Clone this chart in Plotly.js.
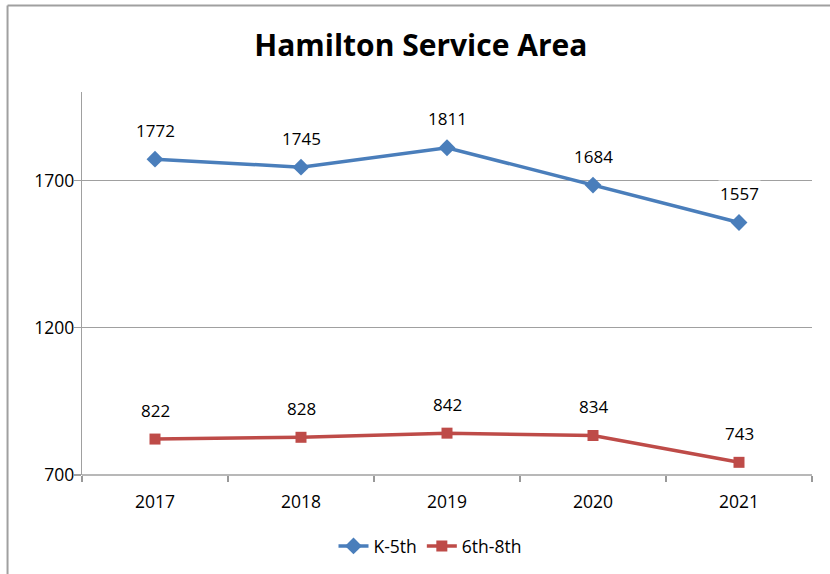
<!DOCTYPE html>
<html>
<head>
<meta charset="utf-8">
<script src="https://cdn.plot.ly/plotly-3.0.1.min.js"></script>
<style>html,body{margin:0;padding:0;background:#fff;}#chart{width:830px;height:574px;}</style>
</head>
<body>
<div id="chart"></div>
<script>
const years = ["2017", "2018", "2019", "2020", "2021"];
const k5 = [1772, 1745, 1811, 1684, 1557];
const g68 = [822, 828, 842, 834, 743];
const seriesNames = ["K-5th", "6th-8th"];

const font = "Open Sans, Noto Sans, DejaVu Sans, sans-serif";

const traces = [
  {x: years, y: k5, name: seriesNames[0], type: "scatter", mode: "lines+markers",
   line: {color: "#4a7ebb", width: 3.5},
   marker: {symbol: "diamond", size: 13, color: "#4a7ebb"}},
  {x: years, y: g68, name: seriesNames[1], type: "scatter", mode: "lines+markers",
   line: {color: "#be4b48", width: 3.5},
   marker: {symbol: "square", size: 11, color: "#be4b48"}}
];

const annotations = [];
[k5, g68].forEach(arr => {
  arr.forEach((v, i) => {
    annotations.push({x: i, y: v, xref: "x", yref: "y", text: String(v), showarrow: false,
      yshift: 29, bgcolor: "#ffffff", font: {family: font, size: 17, color: "#000"}});
  });
});

const layout = {
  width: 830, height: 574,
  margin: {l: 82, r: 18, t: 92, b: 99},
  paper_bgcolor: "#fff", plot_bgcolor: "#fff",
  title: {text: "<b>Hamilton Service Area</b>", x: 0.507, xref: "container", xanchor: "center",
          y: 1 - 45/574, yref: "container", yanchor: "middle",
          font: {family: font, size: 30, color: "#000"}},
  xaxis: {type: "category", range: [-0.5, 4.5], showgrid: false, zeroline: false,
          showline: false, ticks: "outside", tickson: "boundaries", ticklen: 6,
          tickcolor: "#999", tickwidth: 1.5, ticklabelstandoff: 14,
          tickfont: {family: font, size: 17.5, color: "#000"}},
  yaxis: {range: [700, 2000], tick0: 700, dtick: 500, showgrid: true, gridcolor: "#a0a0a0",
          gridwidth: 1.3, zeroline: false, showline: true, linecolor: "#a0a0a0", linewidth: 1.3,
          ticks: "outside", ticklen: 7, tickcolor: "#a0a0a0", tickwidth: 1.3, ticklabelstandoff: -4,
          tickfont: {family: font, size: 17.5, color: "#000"}},
  showlegend: true,
  legend: {orientation: "h", x: 430/830, xref: "container", xanchor: "center",
           y: 1 - 546/574, yref: "container", yanchor: "middle",
           font: {family: font, size: 17.5, color: "#000"}},
  annotations: annotations,
  shapes: [
    {type: "line", xref: "paper", yref: "paper", x0: -0.102, x1: 1.1, y0: (475-5.5)/383, y1: (475-5.5)/383,
     line: {color: "#a0a0a0", width: 2}},
    {type: "line", xref: "paper", yref: "paper", x0: -0.102, x1: -0.102, y0: (475-5.5)/383, y1: -0.4,
     line: {color: "#a0a0a0", width: 2}},
    {type: "line", xref: "paper", yref: "paper", x0: 0, x1: 1, y0: 0, y1: 0,
     line: {color: "#a0a0a0", width: 1.3}}
  ]
};

Plotly.newPlot("chart", traces, layout, {displayModeBar: false, staticPlot: true});
</script>
</body>
</html>
